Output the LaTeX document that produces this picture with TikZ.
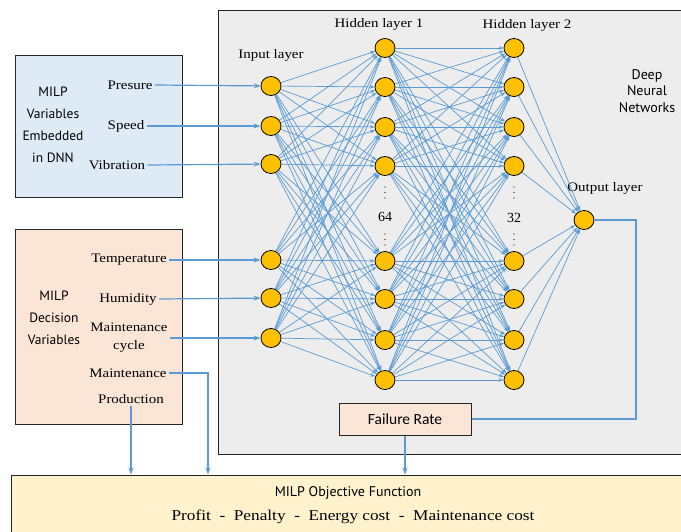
\documentclass[tikz,border=0pt]{standalone}
\usepackage{fontspec}
\setmainfont{Liberation Serif}
\newfontfamily\dinfont{PT Sans}
\newfontfamily\calfont{Carlito}
\usetikzlibrary{arrows.meta,shapes.geometric}
\definecolor{lnblue}{HTML}{5B9BD5}
\definecolor{boxblue}{HTML}{DEEBF7}
\definecolor{boxorange}{HTML}{FBE5D6}
\definecolor{boxyellow}{HTML}{FFF2CC}
\definecolor{dnngray}{HTML}{EDEDED}
\definecolor{neuronfill}{HTML}{FFC000}
\tikzset{
  neuron/.style={ellipse, draw=black, line width=0.8pt, fill=neuronfill, minimum width=20pt, minimum height=19pt, inner sep=0pt},
  conn/.style={draw=lnblue, line width=0.7pt, -{Stealth[length=5pt,width=3.5pt]}},
  feed/.style={draw=lnblue, line width=1.2pt, -{Stealth[length=7pt,width=5pt]}},
  serlabel/.style={font=\fontsize{13}{14}\selectfont, inner sep=2pt, xscale=1.15},
  sanslabel/.style={font=\dinfont\fontsize{13.5}{22}\selectfont, align=center, inner sep=0pt},
  panel/.style={draw=black!85, line width=1pt, inner sep=0pt},
  dotmark/.style={circle, fill=black, inner sep=0pt, minimum size=1.4pt}
}
\begin{document}
\begin{tikzpicture}[x=1pt,y=-1pt]
\useasboundingbox (0,0) rectangle (681,531);
% panels
\node[panel, fill=dnngray, minimum width=477pt, minimum height=444pt] (dnn) at (456.5,232) {};
\node[panel, fill=boxblue, minimum width=167pt, minimum height=142pt] (embed) at (98.5,126) {};
\node[panel, fill=boxorange, minimum width=167pt, minimum height=195pt] (decis) at (98.5,326.5) {};
\node[panel, fill=boxyellow, minimum width=689pt, minimum height=70pt] (obj) at (355.5,510) {};
\node[panel, fill=boxorange, minimum width=132pt, minimum height=32pt] (fail) at (405,419) {};
\node[font=\calfont\fontsize{15.5}{17}\selectfont] (failtxt) at (405,419) {Failure Rate};

% side texts
\node[sanslabel] (embedtxt) at (53,124.5) {MILP\\Variables\\Embedded\\in DNN};
\node[sanslabel] (decistxt) at (54,317.5) {MILP\\Decision\\Variables};
\node[sanslabel, font=\dinfont\fontsize{14}{16.5}\selectfont] (dnntxt) at (647,91) {Deep\\Neural\\Networks};
\node[font=\dinfont\fontsize{14}{15}\selectfont] (objtitle) at (348,493) {MILP Objective Function};
\node[serlabel, font=\fontsize{15}{16}\selectfont, xscale=1.0] (objfun) at (353,517) {Profit \ -\ \ Penalty\ \ -\ \ Energy cost\ \ -\ \ Maintenance cost};

% layer titles
\node[serlabel] (inlab) at (271,55) {Input layer};
\node[serlabel] (h1lab) at (379,24) {Hidden layer 1};
\node[serlabel] (h2lab) at (527,25) {Hidden layer 2};
\node[serlabel] (outlab) at (605,188) {Output layer};

% variable labels
\node[serlabel] (pres) at (130,85) {Presure};
\node[serlabel] (speed) at (126,126) {Speed};
\node[serlabel] (vib) at (117,165) {Vibration};
\node[serlabel] (temp) at (129,260) {Temperature};
\node[serlabel] (hum) at (128,299) {Humidity};
\node[serlabel, align=center, font=\fontsize{13}{18}\selectfont] (mcyc) at (129,338) {Maintenance\\cycle};
\node[serlabel] (maint) at (128,373) {Maintenance};
\node[serlabel] (prod) at (131,399) {Production};

% neurons
\foreach \n/\y in {1/86,2/126,3/164,4/260,5/298,6/338}
  \node[neuron] (i\n) at (271,\y) {};
\foreach \n/\y in {1/48,2/87,3/127,4/166,5/261,6/299,7/340,8/380}{
  \node[neuron] (a\n) at (385,\y) {};
  \node[neuron] (b\n) at (514,\y) {};
}
\node[neuron] (o) at (584,220) {};

% dots and counts
\foreach \x in {385,514}
  \foreach \y in {187,192.5,198,234,239.5,245}
    \node[dotmark] at (\x,\y) {};
\node[font=\fontsize{14}{14}\selectfont, inner sep=0pt] (n64) at (385,217) {64};
\node[font=\fontsize{14}{14}\selectfont, inner sep=0pt] (n32) at (514,218) {32};

% connections
\foreach \s in {1,...,6}
  \foreach \t in {1,...,8}
    \draw[conn] (i\s) -- (a\t);
\foreach \s in {1,...,8}
  \foreach \t in {1,...,8}
    \draw[conn] (a\s) -- (b\t);
\foreach \s in {1,...,8}
  \draw[conn] (b\s) -- (o);

% input feeds
\draw[feed] (pres.east) -- (i1);
\draw[feed] (speed.east) -- (i2);
\draw[feed] (vib.east) -- (i3);
\draw[feed] (temp.east) -- (i4);
\draw[feed] (hum.east) -- (i5);
\draw[feed] (mcyc.east) -- (i6);

% to objective
\coordinate (mx) at (208,0);
\coordinate (oc) at (636,220);
\draw[feed] (maint.east) -| (mx |- obj.north);
\draw[feed] (prod.south) -- (prod.south |- obj.north);
\draw[feed] (fail.south) -- (fail.south |- obj.north);
\draw[draw=lnblue, line width=1.2pt] (o.east) -- (oc) |- (fail.east);
\end{tikzpicture}
\end{document}
